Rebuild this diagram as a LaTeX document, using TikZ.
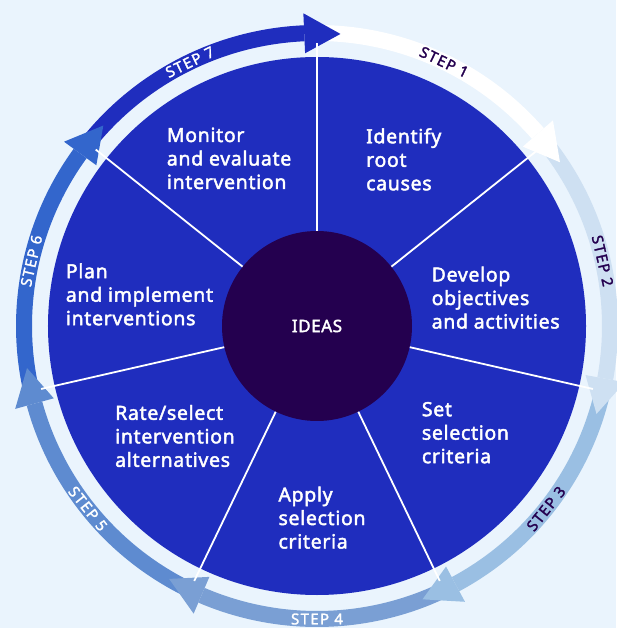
\documentclass[tikz,border=0pt]{standalone}
\usepackage{fontspec}
\setmainfont{Noto Sans}
\newfontfamily\boxfont{Noto Sans}[FakeBold=2.2,LetterSpace=3.5]
\newfontfamily\stepfont{Noto Sans}[FakeBold=1.8,LetterSpace=9]
\usetikzlibrary{positioning}
\definecolor{pagebg}{HTML}{EAF4FD}
\definecolor{diskblue}{HTML}{1F2DBE}
\definecolor{ideaspurple}{HTML}{24004F}
\definecolor{stepa}{HTML}{FFFFFF}
\definecolor{stepb}{HTML}{CEE0F2}
\definecolor{stepc}{HTML}{9ABFE3}
\definecolor{stepd}{HTML}{7A9FD4}
\definecolor{stepe}{HTML}{5E8BD0}
\definecolor{stepf}{HTML}{3366CC}
\definecolor{stepg}{HTML}{1F2DBE}
\tikzset{
  sectortext/.style={text=white,font=\boxfont\fontsize{19.5}{23.5}\selectfont,align=left,anchor=west,inner sep=0pt},
  steplabel/.style={font=\stepfont\fontsize{15}{15}\selectfont,inner sep=0pt},
  divider/.style={draw=white,line width=1.8pt}
}

\begin{document}
\begin{tikzpicture}[x=1pt,y=1pt]
  \useasboundingbox[fill=pagebg] (-317,-302) rectangle (299,326);
  \fill[diskblue] (0,0) circle[radius=269];
  % ring: bands first, heads on top
  \foreach \i/\c in {1/stepa,2/stepb,3/stepc,4/stepd,5/stepe,6/stepf,7/stepg}{
    \pgfmathsetmacro\a{90-(\i-1)*360/7}
    \pgfmathsetmacro\b{90-\i*360/7+2.5}
    \fill[\c] (\a:301) arc[start angle=\a,end angle=\b,radius=301]
      -- (\b:285) arc[start angle=\b,end angle=\a,radius=285] -- cycle;
  }
  \foreach \i/\c in {1/stepa,2/stepb,3/stepc,4/stepd,5/stepe,6/stepf,7/stepg}{
    \pgfmathsetmacro\b{90-\i*360/7+2.5}
    \pgfmathsetmacro\t{90-\i*360/7-4.6}
    \fill[\c] (\b:273) -- (\b:313) -- (\t:293) -- cycle;
  }
  \node[circle,fill=ideaspurple,minimum size=190pt,inner sep=0pt,text=white,
    font=\boxfont\fontsize{17}{17}\selectfont] (ideas) at (0,0) {IDEAS};
  \foreach \i in {0,...,6}{
    \coordinate (d\i) at ({90-\i*360/7}:283);
    \draw[divider] (ideas) -- (d\i);
  }
  \node[sectortext] (s1) at (49,166.6) {Identify\\root\\causes};
  \node[sectortext] (s2) at (114.5,28.3) {Develop\\objectives\\and activities};
  \node[sectortext] (s3) at (104.7,-106.7) {Set\\selection\\criteria};
  \node[sectortext] (s4) at (-38.7,-191.7) {Apply\\selection\\criteria};
  \node[sectortext] (s5) at (-202,-110) {Rate/select\\intervention\\alternatives};
  \node[sectortext] (s6) at (-251.3,31.6) {Plan\\and implement\\interventions};
  \node[sectortext] (s7) at (-150.3,167.6) {Monitor\\and evaluate\\intervention};
  % step labels on the ring
  \foreach \i/\r/\c in {1/-25.71/ideaspurple,2/-77.14/ideaspurple,3/51.43/ideaspurple,
      4/0/white,5/-51.43/white,6/77.14/white,7/25.71/white}{
    \node[steplabel,text=\c,rotate=\r] (l\i) at ({90-(\i-0.5)*360/7}:293) {STEP \i};
  }
\end{tikzpicture}
\end{document}
